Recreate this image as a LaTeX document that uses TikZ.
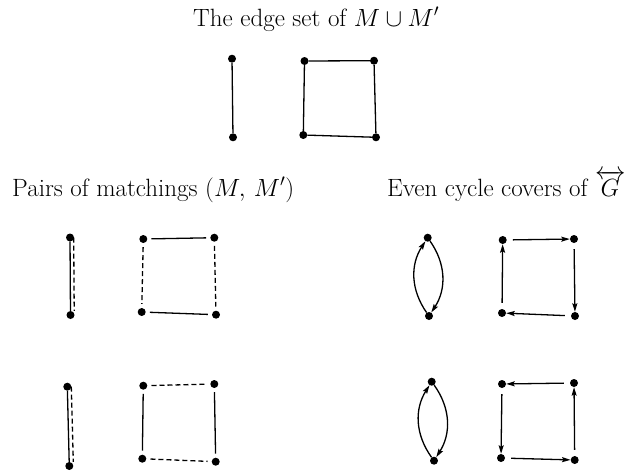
\documentclass[tikz,border=0pt]{standalone}
\usepackage{amsmath}
\usetikzlibrary{arrows.meta}
\begin{document}
\begin{tikzpicture}[x=1pt,y=-1pt,
  dot/.style={circle,fill=black,inner sep=0pt,minimum size=8pt},
  edge/.style={line width=1.3pt},
  dedge/.style={line width=1.3pt,dash pattern=on 5pt off 3pt},
  gapped/.style={shorten <=4pt,shorten >=4pt},
  arr/.style={line width=1.3pt,-{Stealth[length=8.5pt,width=5pt,inset=1.5pt]}},
  sarr/.style={arr,shorten <=6pt},
  title/.style={font=\fontsize{25}{30}\selectfont,inner sep=0pt}]
\useasboundingbox (0,0) rectangle (628,474);
% titles
\node[title,anchor=base west] (t1) at (193,26) {The edge set of $M\cup M'$};
\node[title,anchor=base west] (t2) at (12,196) {Pairs of matchings $(M,\,M')$};
\node[title,anchor=base west] (t3) at (387,196) {Even cycle covers of $\overleftrightarrow{G}$};
% top graph
\node[dot] (a1) at (232,58.7) {};
\node[dot] (a2) at (233,137.3) {};
\node[dot] (a3) at (304.5,61) {};
\node[dot] (a4) at (374,60.7) {};
\node[dot] (a5) at (303.3,135) {};
\node[dot] (a6) at (376,137.3) {};
\draw[edge] (a1) -- (a2);
\draw[edge] (a3) -- (a4) -- (a6) -- (a5) -- (a3);
% pairs row 1
\node[dot] (p1) at (70,237.5) {};
\node[dot] (p2) at (70.5,315) {};
\node[dot] (p3) at (143.3,239) {};
\node[dot] (p4) at (214.3,237.7) {};
\node[dot] (p5) at (141.7,312) {};
\node[dot] (p6) at (216,314.7) {};
\draw[edge] (p1) -- (p2);
\draw[dedge] ([xshift=3.7pt]p1.center) -- ([xshift=3.7pt]p2.north);
\draw[edge,gapped] (p3) -- (p4);
\draw[edge,gapped] (p5) -- (p6);
\draw[dedge,gapped] (p3) -- (p5);
\draw[dedge,gapped] (p4) -- (p6);
% pairs row 2
\node[dot] (q1) at (67.3,386.7) {};
\node[dot] (q2) at (69.3,466) {};
\node[dot] (q3) at (143.3,385.7) {};
\node[dot] (q4) at (214.3,384) {};
\node[dot] (q5) at (142.3,458.7) {};
\node[dot] (q6) at (215.7,461.7) {};
\draw[edge] (q1) -- (q2);
\draw[dedge] ([xshift=4pt]q1.center) -- ([xshift=4pt]q2.north);
\draw[dedge,gapped] (q3) -- (q4);
\draw[dedge,gapped] (q5) -- (q6);
\draw[edge,gapped] (q3) -- (q5);
\draw[edge,gapped] (q4) -- (q6);
% cycle covers row 1
\node[dot] (r1) at (427.7,237.7) {};
\node[dot] (r2) at (429,316) {};
\node[dot] (r3) at (502.7,240) {};
\node[dot] (r4) at (574,239) {};
\node[dot] (r5) at (502,313) {};
\node[dot] (r6) at (575,316) {};
\draw[arr] (r2) to[bend left=34] (r1);
\draw[arr] (r1) to[bend left=34] (r2);
\draw[sarr] (r3) -- (r4);
\draw[sarr] (r4) -- (r6);
\draw[sarr] (r6) -- (r5);
\draw[sarr] (r5) -- (r3);
% cycle covers row 2
\node[dot] (s1) at (431.7,381.7) {};
\node[dot] (s2) at (434,460.7) {};
\node[dot] (s3) at (502,384) {};
\node[dot] (s4) at (574,383) {};
\node[dot] (s5) at (501,458) {};
\node[dot] (s6) at (574.7,460) {};
\draw[arr] (s2) to[bend left=34] (s1);
\draw[arr] (s1) to[bend left=34] (s2);
\draw[sarr] (s4) -- (s3);
\draw[sarr] (s3) -- (s5);
\draw[sarr] (s5) -- (s6);
\draw[sarr] (s6) -- (s4);
\end{tikzpicture}
\end{document}
